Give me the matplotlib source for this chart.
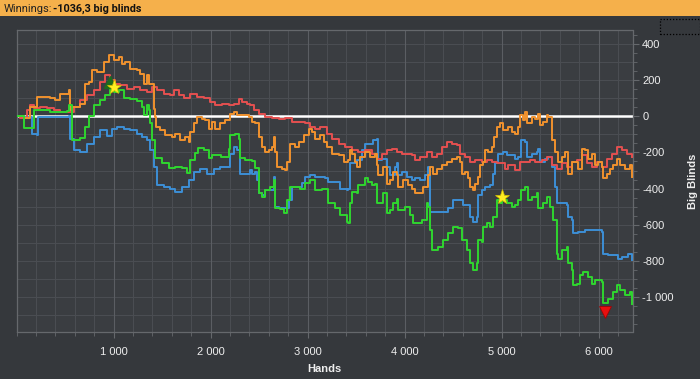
import matplotlib
matplotlib.use("Agg")
import matplotlib.pyplot as plt
from matplotlib.ticker import MultipleLocator, FuncFormatter
from matplotlib.patches import Rectangle

# ---- data (hands, big blinds) ----
green_hands = [0, 75, 178, 350, 522, 539, 574, 659, 711, 745, 796, 865, 917, 968, 1002, 1054, 1105,
               1174, 1243, 1295, 1311, 1346, 1370, 1380, 1397, 1431, 1500, 1569, 1637, 1706, 1758,
               1792, 1843, 1871, 1929, 1981, 2015, 2111, 2186, 2204, 2255, 2290, 2307, 2358, 2427,
               2461, 2496, 2530, 2564, 2616, 2650, 2667, 2719, 2753, 2788, 2822, 2925, 2976, 3028,
               3079, 3148, 3216, 3285, 3337, 3405, 3422, 3440, 3457, 3508, 3525, 3594, 3628, 3663,
               3697, 3714, 3749, 3783, 3817, 3852, 3886, 3920, 3937, 3972, 4006, 4058, 4092, 4143,
               4178, 4230, 4246, 4264, 4281, 4350, 4401, 4452, 4504, 4555, 4590, 4641, 4676, 4710,
               4744, 4761, 4796, 4813, 4847, 4881, 4916, 4950, 4985, 5002, 5053, 5105, 5139, 5173,
               5201, 5242, 5276, 5311, 5362, 5379, 5431, 5465, 5499, 5534, 5568, 5585, 5620, 5671,
               5688, 5723, 5740, 5774, 5808, 5843, 5894, 5929, 5963, 6038, 6049, 6100, 6152, 6186,
               6220, 6272, 6323, 6341]
green_bb = [0, -66, 33, 25, 30, 61, -132, -122, -59, 0, 61, 88, 116, 171, 133, 143, 99,
            95, 83, 52, 5, 61, 33, -40, -133, -232, -260, -288, -280, -288, -316,
            -243, -205, -177, -185, -232, -215, -225, -180, -105, -96, -124, -232, -243, -250,
            -288, -427, -446, -410, -390, -354, -508, -515, -537, -464, -390, -400, -371, -354,
            -410, -400, -482, -510, -547, -584, -593, -482, -418, -427, -381, -344, -362, -381,
            -372, -482, -482, -427, -537, -519, -482, -455, -519, -519, -501, -547, -593, -593,
            -575, -482, -501, -630, -740, -722, -685, -648, -611, -620, -685, -740, -814, -851,
            -814, -685, -694, -611, -593, -611, -556, -464, -482, -464, -482, -501, -492, -464,
            -409, -390, -464, -446, -427, -510, -482, -446, -501, -575, -759, -787, -740, -722,
            -814, -851, -934, -925, -879, -860, -888, -925, -906, -915, -1035, -1008, -971, -934,
            -962, -990, -971, -1036]

orange_hands = [0, 75, 144, 213, 281, 350, 402, 453, 505, 539, 549, 574, 659, 711, 745, 779, 831,
                899, 951, 1002, 1054, 1088, 1123, 1174, 1243, 1277, 1311, 1346, 1363, 1414, 1431,
                1438, 1483, 1534, 1603, 1637, 1689, 1740, 1775, 1792, 1826, 1861, 1912, 1946, 1981,
                2015, 2049, 2101, 2152, 2204, 2238, 2273, 2324, 2393, 2427, 2461, 2496, 2530, 2564,
                2599, 2633, 2650, 2667, 2684, 2736, 2770, 2788, 2822, 2873, 2907, 2959, 3011, 3045,
                3079, 3131, 3165, 3200, 3251, 3320, 3371, 3422, 3440, 3457, 3491, 3508, 3543, 3594,
                3646, 3697, 3714, 3731, 3783, 3817, 3852, 3886, 3920, 3937, 3989, 4040, 4075, 4109,
                4161, 4195, 4246, 4264, 4298, 4333, 4384, 4436, 4487, 4538, 4573, 4590, 4624, 4658,
                4676, 4710, 4727, 4761, 4779, 4813, 4830, 4864, 4899, 4926, 4950, 4985, 5019, 5070,
                5105, 5139, 5173, 5190, 5225, 5242, 5259, 5311, 5345, 5379, 5396, 5431, 5465, 5482,
                5517, 5551, 5585, 5620, 5654, 5688, 5723, 5791, 5826, 5860, 5894, 5929, 5963, 5997,
                6038, 6049, 6083, 6117, 6152, 6186, 6220, 6272, 6323, 6341]
orange_bb = [0, -10, 52, 107, 107, 99, 88, 125, 125, 144, 33, 50, 70, 180, 190, 254, 245,
             300, 337, 310, 328, 291, 300, 263, 254, 236, 180, 227, 180, 42, -4,
             -59, -77, -105, -114, -96, -132, -114, -142, -87, -40, -6, -13, -22, -68,
             -31, -68, -40, -22, 15, 24, 6, 6, -4, -31, -40, -114, -169, -197,
             -188, -169, -114, -197, -280, -289, -298, -252, -151, -169, -142, -105, -68, -87,
             -123, -105, -142, -169, -206, -215, -252, -243, -188, -206, -252, -280, -225, -197,
             -225, -206, -271, -326, -280, -372, -354, -308, -326, -390, -354, -381, -400, -427,
             -427, -390, -326, -280, -317, -289, -271, -252, -234, -225, -252, -317, -308, -344,
             -390, -409, -372, -335, -271, -252, -188, -197, -170, -114, -59, -40, -77, -59,
             -87, -96, -59, 6, -22, 24, -40, -4, -13, 15, -50, -31, 6, -4,
             -133, -197, -252, -225, -197, -317, -252, -289, -179, -188, -234, -206, -271, -252,
             -280, -344, -317, -289, -270, -234, -271, -289, -271, -335]

red_hands = [0, 41, 110, 144, 178, 247, 316, 384, 453, 522, 590, 659, 728, 796, 865, 917, 968,
             1020, 1071, 1140, 1208, 1277, 1346, 1397, 1449, 1517, 1586, 1620, 1672, 1723, 1792,
             1861, 1929, 1998, 2049, 2118, 2186, 2238, 2290, 2324, 2376, 2410, 2444, 2496, 2564,
             2633, 2701, 2770, 2839, 2907, 2976, 3028, 3079, 3131, 3165, 3200, 3251, 3320, 3388,
             3457, 3525, 3594, 3663, 3714, 3766, 3817, 3869, 3920, 3972, 4024, 4075, 4109, 4161,
             4230, 4281, 4333, 4384, 4436, 4487, 4538, 4573, 4624, 4676, 4727, 4796, 4847, 4899,
             4950, 5002, 5036, 5070, 5139, 5190, 5242, 5293, 5345, 5414, 5465, 5517, 5568, 5620,
             5671, 5723, 5774, 5826, 5877, 5929, 5980, 6031, 6083, 6134, 6186, 6237, 6289, 6341]
red_bb = [0, -10, 33, 61, 45, 52, 45, 35, 24, 24, 52, 88, 116, 144, 190, 227, 199,
          180, 171, 153, 162, 144, 134, 162, 144, 125, 116, 144, 116, 99, 125,
          107, 99, 79, 61, 70, 61, 70, 98, 79, 70, 61, 33, 15, -4,
          -8, -13, -8, -31, -31, -40, -59, -68, -59, -59, -96, -123, -151, -169,
          -188, -197, -188, -206, -234, -206, -188, -179, -197, -206, -206, -215, -243, -225,
          -197, -225, -206, -169, -142, -151, -160, -206, -225, -252, -243, -252, -243, -252,
          -261, -261, -289, -270, -298, -252, -252, -243, -252, -243, -225, -270, -289, -261,
          -280, -252, -243, -215, -261, -280, -252, -280, -234, -206, -169, -188, -206, -225]

blue_hands = [0, 75, 161, 213, 220, 350, 539, 556, 590, 659, 728, 796, 865, 934, 986, 1037, 1105,
              1174, 1243, 1295, 1346, 1380, 1414, 1449, 1517, 1586, 1637, 1706, 1775, 1826, 1895,
              1964, 2032, 2101, 2204, 2238, 2273, 2307, 2358, 2410, 2427, 2461, 2479, 2496, 2530,
              2564, 2616, 2650, 2667, 2701, 2770, 2804, 2839, 2890, 2942, 2976, 3028, 3079, 3131,
              3182, 3216, 3285, 3337, 3405, 3422, 3440, 3474, 3508, 3560, 3594, 3646, 3680, 3714,
              3731, 3766, 3817, 3852, 3903, 3920, 3937, 3972, 4024, 4075, 4109, 4161, 4212, 4246,
              4264, 4315, 4384, 4452, 4504, 4555, 4607, 4641, 4676, 4710, 4744, 4761, 4796, 4830,
              4881, 4916, 4933, 4967, 5019, 5053, 5105, 5139, 5173, 5201, 5242, 5259, 5311, 5362,
              5379, 5396, 5448, 5482, 5517, 5551, 5568, 5620, 5671, 5688, 5723, 5740, 5791, 5860,
              5929, 5997, 6031, 6049, 6100, 6169, 6203, 6237, 6289, 6306, 6341]
blue_bb = [0, -5, -96, -105, -5, -4, 0, -123, -188, -197, -151, -114, -77, -110, -68, -59, -68,
           -77, -96, -114, -133, -188, -280, -381, -390, -400, -418, -390, -354, -308, -290,
           -317, -290, -280, -206, -170, -188, -317, -317, -299, -317, -310, -354, -427, -436,
           -410, -410, -335, -501, -510, -510, -464, -390, -390, -371, -335, -326, -335, -335,
           -344, -363, -363, -400, -409, -400, -261, -261, -243, -188, -151, -151, -133, -123,
           -243, -234, -280, -326, -280, -261, -326, -308, -335, -354, -344, -354, -326, -280,
           -528, -528, -528, -510, -464, -464, -492, -492, -556, -584, -556, -436, -409, -390,
           -381, -317, -261, -206, -197, -215, -215, -234, -225, -133, -142, -225, -206, -197,
           -179, -252, -234, -225, -280, -390, -482, -482, -492, -556, -575, -648, -640, -630,
           -630, -630, -640, -759, -768, -768, -787, -778, -778, -759, -796]

star_hands = [1002, 5008]
star_bb = [162, -446]
high_hand, high_bb = 968, 188
low_hand, low_bb = 6066, -1081

x_ticks = [1000, 2000, 3000, 4000, 5000, 6000]
y_ticks = [400, 200, 0, -200, -400, -600, -800, -1000]
title_label = "Winnings:"
title_value = "-1036,3 big blinds"

# ---- colours ----
bg = "#35383c"
plot_bg = "#3a3d41"
grid_minor = "#4a4d52"
grid_major = "#5b5e63"
text_col = "#eeeeee"

plt.rcParams['font.family'] = ['Liberation Sans', 'DejaVu Sans']

fig = plt.figure(figsize=(7.0, 3.79), dpi=100, facecolor=bg)

# orange title strip
fig.patches.append(Rectangle((0, 1 - 16 / 379), 1, 16 / 379, transform=fig.transFigure,
                             facecolor="#f5b04b", edgecolor="none", zorder=0))
fig.text(4 / 700, 1 - 8.5 / 379, title_label, fontsize=8, color="#222222", va="center",
         family="Roboto")
fig.text(53 / 700, 1 - 8.5 / 379, title_value, fontsize=7.8, color="#111111",
         fontweight="bold", va="center", family="Roboto")
# dotted box at the top right
fig.patches.append(Rectangle((660 / 700, 1 - 34 / 379), 40 / 700, 15 / 379,
                             transform=fig.transFigure, facecolor="none",
                             edgecolor="#000000", linestyle=(0, (1, 1.5)), linewidth=0.9))

ax = fig.add_axes([16.5 / 700, 1 - 332 / 379, 616 / 700, 302 / 379])
ax.set_facecolor(plot_bg)
ax.set_xlim(0, 6350)
ax.set_ylim(-1193, 477)

# grid
for v in range(-1100, 500, 100):
    ax.axhline(v, color=grid_minor, linewidth=0.8, zorder=1)
for h in range(200, 6400, 200):
    ax.axvline(h, color=grid_major if h % 1000 == 0 else grid_minor, linewidth=0.8, zorder=1)

ax.axhline(0, color="white", linewidth=1.8, zorder=2)

lw = 1.4
ax.plot(blue_hands, blue_bb, drawstyle="steps-post", color="#3d8fd6", linewidth=lw, zorder=3)
ax.plot(red_hands, red_bb, drawstyle="steps-post", color="#e45050", linewidth=lw, zorder=3)
ax.plot(orange_hands, orange_bb, drawstyle="steps-post", color="#f0922e", linewidth=lw, zorder=4)
ax.plot(green_hands, green_bb, drawstyle="steps-post", color="#2fd62f", linewidth=lw, zorder=5)

ax.plot([high_hand], [high_bb], marker="^", markersize=9, color="#1e6b1e", zorder=6, linestyle="none")
ax.plot(star_hands, star_bb, marker="*", markersize=11, color="#ffee22",
        markeredgecolor="#d4c000", markeredgewidth=0.5, zorder=7, linestyle="none")
ax.plot([low_hand], [low_bb], marker="v", markersize=9, color="#e81010",
        markeredgecolor="#a00000", markeredgewidth=0.5, zorder=7, linestyle="none")

# axes / ticks
for s in ax.spines.values():
    s.set_color("#65686c")
    s.set_linewidth(0.9)

fmt = FuncFormatter(lambda v, p: f"{int(v):,}".replace(",", " "))
ax.yaxis.tick_right()
ax.yaxis.set_label_position("right")
ax.set_yticks(y_ticks)
ax.yaxis.set_minor_locator(MultipleLocator(50))
ax.yaxis.set_major_formatter(fmt)
ax.set_xticks(x_ticks)
ax.xaxis.set_minor_locator(MultipleLocator(200))
ax.xaxis.set_major_formatter(fmt)

ax.tick_params(axis="both", which="both", colors="#65686c", labelcolor=text_col, labelsize=8)
ax.tick_params(axis="both", which="major", length=4, width=0.8)
ax.tick_params(axis="both", which="minor", length=3, width=0.6)
ax.tick_params(axis="x", pad=7)
ax.tick_params(axis="y", pad=3)

ax.set_xlabel("Hands", color=text_col, fontsize=8, fontweight="bold", labelpad=5)
ax.set_ylabel("Big Blinds", color=text_col, fontsize=8, fontweight="bold", labelpad=10)

fig.savefig("out.png", dpi=100, facecolor=bg)
